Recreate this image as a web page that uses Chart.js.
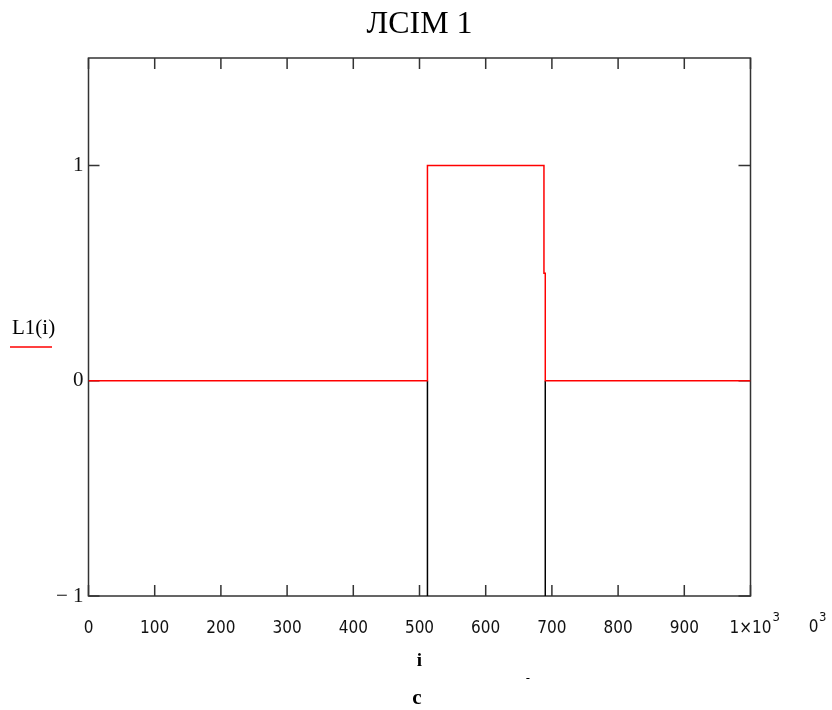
<!DOCTYPE html>
<html>
<head>
<meta charset="utf-8">
<script src="https://cdn.jsdelivr.net/npm/chart.js@4/dist/chart.umd.min.js"></script>
<style>
html,body{margin:0;padding:0;background:#fff;}
#wrap{width:832px;height:710px;position:relative;}
</style>
</head>
<body>
<div id="wrap"><canvas id="c" width="832" height="710"></canvas></div>
<script>
// ---- data ----
const chartTitle = "ЛСІМ 1";
const seriesName = "L1(i)";
const xAxisTitle = "i";
const caption = "c";
const redX = [0, 512, 512, 688, 688, 690, 690, 1000];
const redY = [0, 0, 1, 1, 0.5, 0.5, 0, 0];
const blackX = [512, 512, null, 690, 690];
const blackY = [-1, 0, null, 0, -1];
const xTickValues = [0, 100, 200, 300, 400, 500, 600, 700, 800, 900, 1000];
const yTickValues = [-1, 0, 1];
const yTickLabels = ["\u2212 1", "0", "1"];
const xMin = 0, xMax = 1000, yMin = -1, yMax = 1.5;

const toPts = (xs, ys) => xs.map((x, i) => (x === null ? {x: null, y: null} : {x: x, y: ys[i]}));

const tickFamily = '"DejaVu Sans Condensed", "DejaVu Sans"';
const labelFont = '17px ' + tickFamily;
const supFont = '13px ' + tickFamily;

const framePlugin = {
  id: 'frame',
  beforeDatasetsDraw(chart) {
    const {ctx, chartArea: a, scales: {x, y}} = chart;
    ctx.save();
    ctx.strokeStyle = '#333';
    ctx.lineWidth = 1.5;
    ctx.strokeRect(a.left, a.top, a.right - a.left, a.bottom - a.top);
    ctx.beginPath();
    xTickValues.forEach(v => {
      const px = x.getPixelForValue(v);
      ctx.moveTo(px, a.bottom); ctx.lineTo(px, a.bottom - 11);
      ctx.moveTo(px, a.top); ctx.lineTo(px, a.top + 11);
    });
    yTickValues.forEach(v => {
      const py = y.getPixelForValue(v);
      ctx.moveTo(a.left, py); ctx.lineTo(a.left + 11, py);
      ctx.moveTo(a.right, py); ctx.lineTo(a.right - 12, py);
    });
    ctx.stroke();
    ctx.restore();
  },
  afterDraw(chart) {
    const {ctx, chartArea: a, scales: {x}} = chart;
    ctx.save();
    ctx.fillStyle = '#000';
    ctx.textAlign = 'center';
    ctx.textBaseline = 'middle';
    ctx.font = '32px "Liberation Serif"';
    ctx.fillText(chartTitle, (a.left + a.right) / 2, 25);
    // legend
    ctx.font = '21px "Liberation Serif"';
    ctx.textAlign = 'left';
    ctx.textBaseline = 'alphabetic';
    ctx.fillText(seriesName, 12, 334);
    ctx.strokeStyle = '#ff0000';
    ctx.lineWidth = 1.5;
    ctx.beginPath(); ctx.moveTo(10, 347); ctx.lineTo(52, 347); ctx.stroke();
    ctx.textBaseline = 'middle';
    // superscript exponent after last x tick label
    ctx.fillStyle = '#111';
    ctx.font = labelFont;
    const lastPx = x.getPixelForValue(1000);
    const w = ctx.measureText('1\u00D710').width;
    ctx.font = supFont;
    ctx.textAlign = 'left';
    ctx.fillText('3', lastPx + w / 2 + 1, 618);
    // extra stray label "0^3"
    ctx.font = labelFont;
    ctx.textAlign = 'center';
    ctx.fillText('0', 813.5, 628);
    ctx.font = supFont;
    ctx.textAlign = 'left';
    ctx.fillText('3', 819, 618);
    ctx.fillStyle = '#000';
    ctx.font = '12px "DejaVu Sans"';
    ctx.textAlign = 'center';
    ctx.fillText('-', 528, 679);
    ctx.font = 'bold 21px "Liberation Serif"';
    ctx.fillText(caption, 417, 699);
    ctx.restore();
  }
};

new Chart(document.getElementById('c'), {
  type: 'line',
  data: {
    datasets: [
      {
        label: seriesName,
        data: toPts(redX, redY),
        borderColor: '#ff0000',
        borderWidth: 1.5,
        pointRadius: 0,
        fill: false,
        tension: 0,
        order: 1
      },
      {
        label: 'edges',
        data: toPts(blackX, blackY),
        borderColor: '#000',
        borderWidth: 1.5,
        pointRadius: 0,
        spanGaps: false,
        fill: false,
        tension: 0,
        order: 2
      }
    ]
  },
  options: {
    responsive: false,
    animation: false,
    devicePixelRatio: 1,
    layout: {padding: {top: 58, left: 0, right: 81.5, bottom: 0}},
    plugins: {legend: {display: false}, title: {display: false}, tooltip: {enabled: false}},
    scales: {
      x: {
        type: 'linear',
        min: xMin, max: xMax,
        grid: {display: false, drawTicks: false},
        border: {display: false},
        afterBuildTicks: s => { s.ticks = xTickValues.map(v => ({value: v})); },
        afterFit: s => { s.height = 114; },
        ticks: {
          maxRotation: 0, autoSkip: false, padding: 22,
          color: '#111',
          font: {family: tickFamily, size: 17},
          callback: v => (v === 1000 ? '1\u00D710' : String(v))
        },
        title: {
          display: true, text: xAxisTitle, color: '#000',
          font: {family: 'Liberation Serif', size: 19, weight: 'bold'},
          padding: {top: 0, bottom: 38}
        }
      },
      y: {
        type: 'linear',
        min: yMin, max: yMax,
        grid: {display: false, drawTicks: false},
        border: {display: false},
        afterBuildTicks: s => { s.ticks = yTickValues.map(v => ({value: v})); },
        afterFit: s => { s.width = 88.5; },
        ticks: {
          padding: 5, color: '#111',
          font: {family: 'Liberation Serif', size: 21},
          callback: v => { const i = yTickValues.indexOf(v); return i >= 0 ? yTickLabels[i] : ''; }
        }
      }
    }
  },
  plugins: [framePlugin]
});
</script>
</body>
</html>
